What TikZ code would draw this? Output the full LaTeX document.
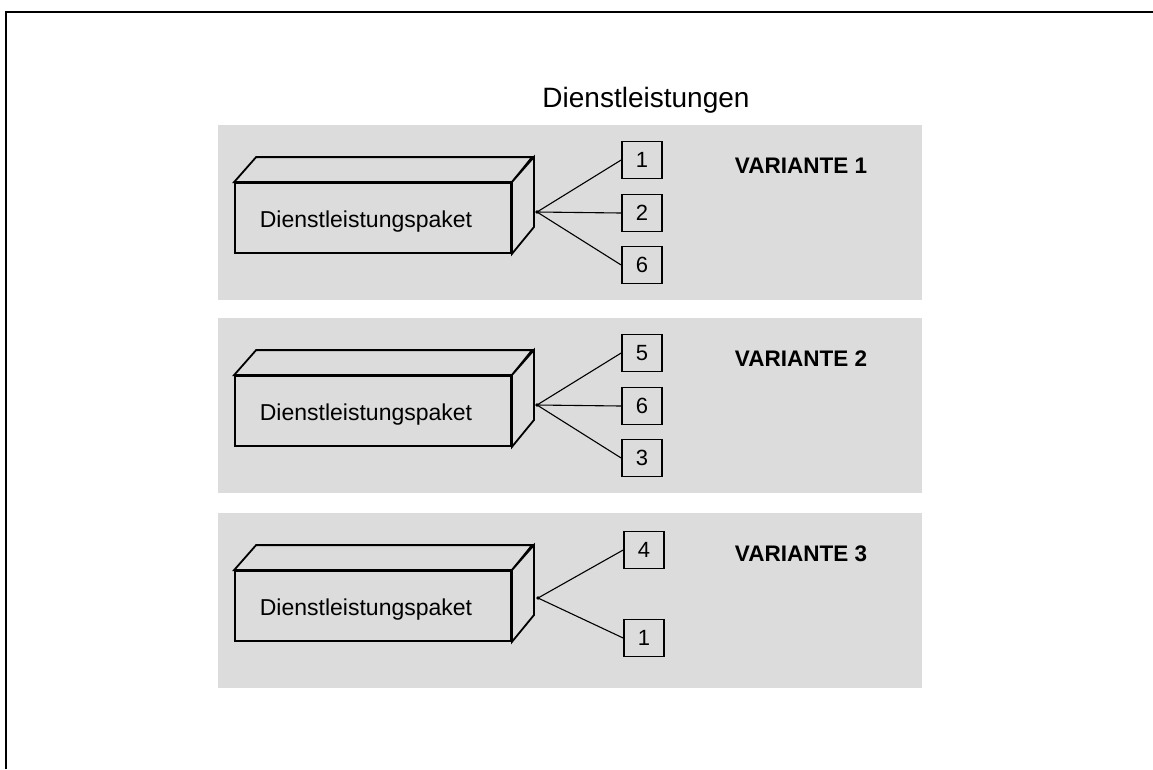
\documentclass[tikz,border=0pt]{standalone}
\usepackage{fontspec}
\setmainfont{Liberation Sans}
\definecolor{panelgray}{RGB}{220,220,220}
\tikzset{
  panel/.style={fill=panelgray, draw=none},
  face/.style={draw=black, line width=1.8pt, fill=panelgray, line join=miter},
  numbox/.style={draw=black, line width=1.7pt, fill=panelgray, minimum width=40pt,
    minimum height=37pt, inner sep=0pt, font=\fontsize{22}{24}\selectfont},
  link/.style={draw=black, line width=1.1pt},
  variant/.style={font=\bfseries\fontsize{22.5}{24}\selectfont, inner sep=0pt},
  pktext/.style={font=\fontsize{23}{25}\selectfont, inner sep=0pt},
}
% draws one package block: front face, top face, side face, label
\newcommand{\paketblock}[1]{%
  \node[face, minimum width=276pt, minimum height=70pt, inner sep=0pt] (#1) at (373,218) {};
  \draw[face] (#1.north west) -- ++(22,-25) -- ++(276,0) -- (#1.north east) -- cycle;
  \draw[face] (#1.north east) -- ++(22,-25) -- ++(0,70) -- (#1.south east) -- cycle;
  \node[pktext] (#1t) at (366,222) {Dienstleistungspaket};
}
\begin{document}
\begin{tikzpicture}[x=1pt, y=-1pt]
\useasboundingbox (0,0) rectangle (1153,769);
% outer frame (top and left edges)
\draw[line width=2pt] (6,769) -- (6,12) -- (1153,12);

\node[font=\fontsize{28}{30}\selectfont, inner sep=0pt] (title) at (646,100) {Dienstleistungen};

% Variante 1
\begin{scope}
  \fill[panel] (218,125) rectangle (922,300);
  \paketblock{pkA}
  \coordinate (cA) at (537,212);
  \node[numbox] (a1) at (642,160) {1};
  \node[numbox] (a2) at (642,213) {2};
  \node[numbox] (a3) at (642,265) {6};
  \draw[link] (cA) -- (a1.west);
  \draw[link] (cA) -- (a2.west);
  \draw[link] (cA) -- (a3.west);
  \fill (cA) circle (1.8pt);
  \node[variant] (vA) at (801,166) {VARIANTE 1};
\end{scope}

% Variante 2
\begin{scope}[shift={(0,193)}]
  \fill[panel] (218,125) rectangle (922,300);
  \paketblock{pkB}
  \coordinate (cB) at (537,212);
  \node[numbox] (b1) at (642,160) {5};
  \node[numbox] (b2) at (642,213) {6};
  \node[numbox] (b3) at (642,265) {3};
  \draw[link] (cB) -- (b1.west);
  \draw[link] (cB) -- (b2.west);
  \draw[link] (cB) -- (b3.west);
  \fill (cB) circle (1.8pt);
  \node[variant] (vB) at (801,166) {VARIANTE 2};
\end{scope}

% Variante 3
\begin{scope}[shift={(0,388)}]
  \fill[panel] (218,125) rectangle (922,300);
  \paketblock{pkC}
  \coordinate (cC) at (538,210);
  \node[numbox] (c1) at (644,162) {4};
  \node[numbox] (c2) at (644,250) {1};
  \draw[link] (cC) -- (c1.west);
  \draw[link] (cC) -- (c2.west);
  \fill (cC) circle (1.8pt);
  \node[variant] (vC) at (801,166) {VARIANTE 3};
\end{scope}
\end{tikzpicture}
\end{document}
